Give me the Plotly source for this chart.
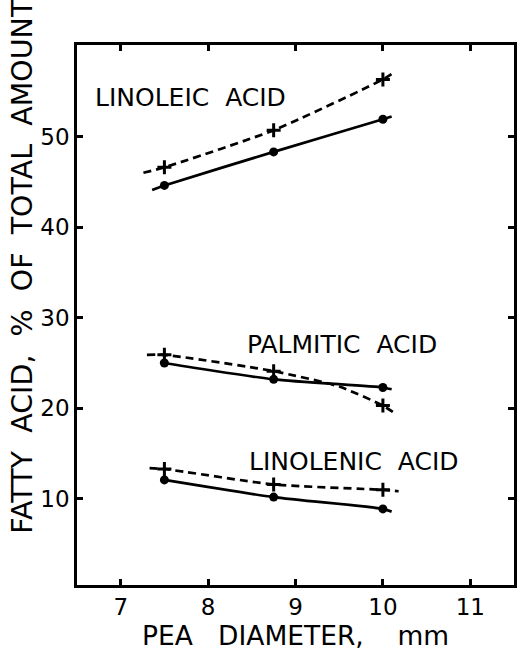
import plotly.graph_objects as go

# Measured pea diameters (mm)
diameter = [7.5, 8.75, 10.0]

# Fatty acid content, % of total amount (solid line with dots / dashed line with crosses)
linoleic_dot = [44.6, 48.3, 51.9]
linoleic_cross = [46.6, 50.7, 56.3]
palmitic_dot = [25.0, 23.2, 22.3]
palmitic_cross = [25.9, 24.1, 20.3]
linolenic_dot = [12.1, 10.2, 8.9]
linolenic_cross = [13.3, 11.6, 11.0]

# Drawn curve extents (lines run slightly beyond the points)
linoleic_dot_curve_x = [7.36, 7.5, 8.75, 10.0, 10.1]
linoleic_dot_curve_y = [44.1, 44.6, 48.3, 51.9, 52.2]
linoleic_cross_curve_x = [7.26, 7.5, 8.75, 10.0, 10.13]
linoleic_cross_curve_y = [46.0, 46.6, 50.7, 56.3, 57.1]
palmitic_dot_curve_x = [7.45, 7.5, 8.75, 10.0, 10.1]
palmitic_dot_curve_y = [25.1, 25.0, 23.2, 22.3, 22.1]
palmitic_cross_curve_x = [7.3, 7.5, 8.75, 9.5, 10.0, 10.13]
palmitic_cross_curve_y = [25.9, 25.9, 24.1, 22.4, 20.3, 19.5]
linolenic_dot_curve_x = [7.5, 8.75, 10.0, 10.1]
linolenic_dot_curve_y = [12.1, 10.2, 8.9, 8.6]
linolenic_cross_curve_x = [7.33, 7.5, 8.75, 10.0, 10.18]
linolenic_cross_curve_y = [13.4, 13.3, 11.6, 11.0, 10.85]

x_ticks = [7, 8, 9, 10, 11]
y_ticks = [10, 20, 30, 40, 50]

labels = ["LINOLEIC  ACID", "PALMITIC  ACID", "LINOLENIC  ACID"]
label_x = [7.80, 9.53, 9.67]
label_y = [54.3, 27.0, 14.1]

FONT = "DejaVu Sans"
fig = go.Figure()

curves = [
    (linoleic_dot_curve_x, linoleic_dot_curve_y, "solid"),
    (linoleic_cross_curve_x, linoleic_cross_curve_y, "dash"),
    (palmitic_dot_curve_x, palmitic_dot_curve_y, "solid"),
    (palmitic_cross_curve_x, palmitic_cross_curve_y, "dash"),
    (linolenic_dot_curve_x, linolenic_dot_curve_y, "solid"),
    (linolenic_cross_curve_x, linolenic_cross_curve_y, "dash"),
]
for cx, cy, dash in curves:
    fig.add_trace(go.Scatter(
        x=cx, y=cy, mode="lines",
        line=dict(color="black", width=2.7, dash="8px,5px" if dash == "dash" else "solid",
                  shape="spline", smoothing=0.6),
        showlegend=False, hoverinfo="skip"))

for ys in [linoleic_dot, palmitic_dot, linolenic_dot]:
    fig.add_trace(go.Scatter(
        x=diameter, y=ys, mode="markers",
        marker=dict(symbol="circle", size=9, color="black"),
        showlegend=False))
for ys in [linoleic_cross, palmitic_cross, linolenic_cross]:
    fig.add_trace(go.Scatter(
        x=diameter, y=ys, mode="markers",
        marker=dict(symbol="cross-thin", size=10, color="black",
                    line=dict(color="black", width=3)),
        showlegend=False))

for t, lx, ly in zip(labels, label_x, label_y):
    fig.add_annotation(x=lx, y=ly, text=t, showarrow=False,
                       font=dict(family=FONT, size=25, color="black"))

fig.add_annotation(xref="paper", yref="paper", x=-0.125, y=0.59,
                   text="FATTY  ACID,  %  OF  TOTAL  AMOUNT", textangle=-90,
                   showarrow=False, xanchor="center", yanchor="middle",
                   font=dict(family=FONT, size=28.5, color="black"))

fig.update_xaxes(range=[6.5, 11.5], tickvals=x_ticks, ticks="inside", ticklen=6,
                 tickwidth=2.5, tickcolor="black", showline=True, linewidth=2.7,
                 linecolor="black", mirror="ticks", showgrid=False, zeroline=False,
                 tickfont=dict(family=FONT, size=23, color="black"),
                 title=dict(text="PEA   DIAMETER,    mm", standoff=4,
                            font=dict(family=FONT, size=26.5, color="black")))
fig.update_yaxes(range=[0.5, 60.1], tickvals=y_ticks, ticks="inside", ticklen=6,
                 tickwidth=2.5, tickcolor="black", showline=True, linewidth=2.7,
                 linecolor="black", mirror="ticks", showgrid=False, zeroline=False,
                 tickfont=dict(family=FONT, size=23, color="black"))

fig.update_layout(width=518, height=656, margin=dict(l=77, r=1, t=45, b=71),
                  plot_bgcolor="white", paper_bgcolor="white")

fig.write_html("out.html")
